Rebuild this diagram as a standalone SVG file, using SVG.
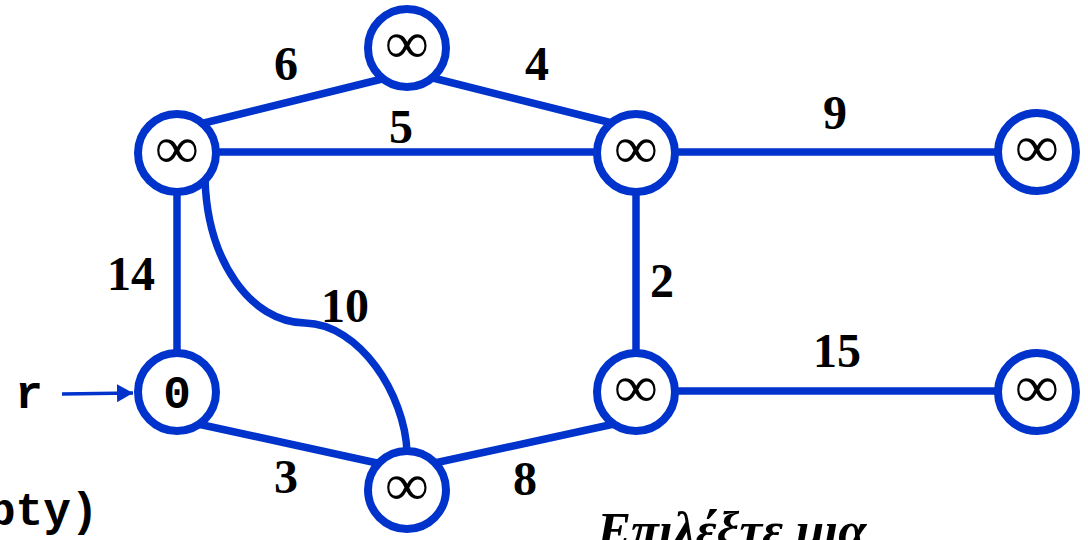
<svg xmlns="http://www.w3.org/2000/svg" width="1088" height="540" viewBox="0 0 1088 540">
<defs>
<style>
.edge{fill:none;stroke:#0033cc;stroke-width:7.5;}
.node circle{fill:#fff;stroke:#0033cc;stroke-width:8;}
.inf{font-family:"Liberation Serif",serif;font-size:60px;font-weight:bold;text-anchor:middle;fill:#000;}
.w{font-family:"Liberation Serif",serif;font-weight:bold;font-size:48px;text-anchor:middle;fill:#000;}
.mono{font-family:"Liberation Mono",monospace;font-weight:bold;font-size:46px;fill:#000;}
</style>
<marker id="ah" viewBox="0 0 16 18" refX="16" refY="9" markerWidth="16" markerHeight="18" markerUnits="userSpaceOnUse" orient="auto">
<path d="M0,0 L16,9 L0,18 Z" fill="#0033cc"/>
</marker>
</defs>
<rect width="1088" height="540" fill="#fff"/>
<g id="connectors">
<line class="edge" x1="200" y1="124" x2="382" y2="79"/>
<line class="edge" x1="433" y1="78" x2="612" y2="123"/>
<line class="edge" x1="177" y1="152" x2="636" y2="152"/>
<line class="edge" x1="636" y1="152" x2="1037" y2="152"/>
<line class="edge" x1="177" y1="152" x2="177" y2="392"/>
<line class="edge" x1="636" y1="152" x2="636" y2="392"/>
<line class="edge" x1="636" y1="391" x2="1037" y2="391"/>
<line class="edge" x1="198" y1="424" x2="386" y2="465"/>
<line class="edge" x1="430" y1="464" x2="614" y2="424"/>
<path class="edge" d="M205,178 C207,260 250,322 305,323 C360,324 405,395 407,452"/>
<line x1="62" y1="394" x2="133" y2="393" stroke="#0033cc" stroke-width="3.5" marker-end="url(#ah)"/>
<text class="w" x="286" y="80">6</text>
<text class="w" x="537" y="80">4</text>
<text class="w" x="401" y="143">5</text>
<text class="w" x="835" y="129">9</text>
<text class="w" x="131" y="290">14</text>
<text class="w" x="662" y="297">2</text>
<text class="w" x="345" y="322">10</text>
<text class="w" x="837" y="367">15</text>
<text class="w" x="286" y="493">3</text>
<text class="w" x="525" y="495">8</text>
</g>
<g id="node-top" class="node"><circle cx="407" cy="48" r="39"/><text class="inf" x="407" y="63">∞</text></g>
<g id="node-a" class="node"><circle cx="177" cy="153" r="39"/><text class="inf" x="177" y="168">∞</text></g>
<g id="node-c" class="node"><circle cx="636" cy="153" r="39"/><text class="inf" x="636" y="168">∞</text></g>
<g id="node-d" class="node"><circle cx="1037" cy="152" r="39"/><text class="inf" x="1037" y="167">∞</text></g>
<g id="node-r" class="node"><circle cx="177" cy="392" r="39"/><text class="mono" x="177" y="408" text-anchor="middle">0</text></g>
<g id="node-e" class="node"><circle cx="636" cy="392" r="39"/><text class="inf" x="636" y="407">∞</text></g>
<g id="node-f" class="node"><circle cx="1037" cy="392" r="39"/><text class="inf" x="1037" y="407">∞</text></g>
<g id="node-bottom" class="node"><circle cx="407" cy="490" r="39"/><text class="inf" x="407" y="505">∞</text></g>
<text class="mono" x="29" y="408" text-anchor="middle">r</text>
<text class="mono" x="-12" y="525">pty)</text>
<text x="597" y="547" font-family="Liberation Serif,serif" font-style="italic" font-weight="bold" font-size="51" fill="#000">Επιλέξτε μια</text>
</svg>
